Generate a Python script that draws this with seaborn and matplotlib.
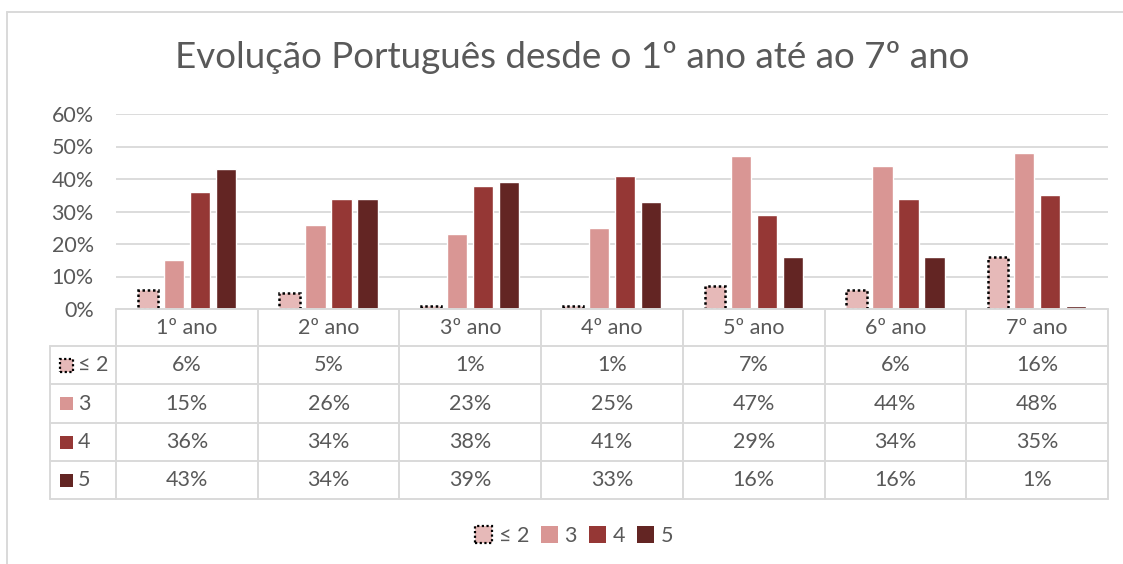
import numpy as np
import pandas as pd
import matplotlib
matplotlib.use('Agg')
import matplotlib.pyplot as plt
import seaborn as sns
from matplotlib.patches import Rectangle, Patch
from matplotlib.lines import Line2D
from matplotlib.ticker import PercentFormatter

# dados
anos = ['1º ano', '2º ano', '3º ano', '4º ano', '5º ano', '6º ano', '7º ano']
niveis = ['≤ 2', '3', '4', '5']
nivel_le2 = [6, 5, 1, 1, 7, 6, 16]
nivel_3 = [15, 26, 23, 25, 47, 44, 48]
nivel_4 = [36, 34, 38, 41, 29, 34, 35]
nivel_5 = [43, 34, 39, 33, 16, 16, 1]
y_ticks = [0, 10, 20, 30, 40, 50, 60]

cores = ['#E6B9B8', '#D99694', '#953735', '#632523']
cinza = '#D9D9D9'
texto = '#595959'

series = [nivel_le2, nivel_3, nivel_4, nivel_5]
df = pd.DataFrame({
    'ano': anos * 4,
    'nivel': [n for n in niveis for _ in anos],
    'valor': [v / 100 for s in series for v in s],
})

sns.set_theme(style='white')
plt.rcParams['font.family'] = ['Lato', 'DejaVu Sans']

W, H = 1123, 564
fig = plt.figure(figsize=(W / 100, H / 100), dpi=100)
fs = 15.5


def fx(px):
    return px / W


def fy(py):
    return 1 - py / H


# área do gráfico
x0, x1, y0, y1 = 116, 1108, 309, 114
ax = fig.add_axes([fx(x0), fy(y0), fx(x1 - x0), fy(y1) - fy(y0)])

sns.barplot(data=df, x='ano', y='valor', hue='nivel', hue_order=niveis,
            palette=cores, saturation=1, width=0.734, gap=0.22,
            legend=False, ax=ax)

# contorno pontilhado para a série ≤ 2
for p in ax.patches[:len(anos)]:
    p.set_edgecolor('black')
    p.set_linestyle((0, (1, 1.1)))
    p.set_linewidth(1.8)

ax.set_xlim(-0.5, len(anos) - 0.5)
ax.set_ylim(0, 0.6)
ax.set_yticks([t / 100 for t in y_ticks])
ax.yaxis.set_major_formatter(PercentFormatter(1.0, decimals=0))
ax.yaxis.grid(True, color=cinza, lw=1.3)
ax.set_axisbelow(True)
ax.set_xticks([])
ax.set_xlabel('')
ax.set_ylabel('')
ax.tick_params(axis='y', length=0, labelsize=fs, labelcolor=texto, pad=16)
for s in ax.spines.values():
    s.set_visible(False)

# título
fig.text(fx(572), fy(58), 'Evolução Português desde o 1º ano até ao 7º ano',
         ha='center', va='center', fontsize=26.5, color=texto)

# tabela de dados
lx = 50
rows = [309, 346, 384, 423, 461, 499]
colw = (x1 - x0) / len(anos)


def hline(y, xa, xb):
    fig.add_artist(Line2D([fx(xa), fx(xb)], [fy(y), fy(y)], color=cinza, lw=1.4))


def vline(x, ya, yb):
    fig.add_artist(Line2D([fx(x), fx(x)], [fy(ya), fy(yb)], color=cinza, lw=1.4))


hline(rows[0], x0, x1)
for y in rows[1:]:
    hline(y, lx, x1)
vline(lx, rows[1], rows[-1])
for i in range(len(anos) + 1):
    vline(x0 + i * colw, rows[0], rows[-1])

for i, a in enumerate(anos):
    cx = x0 + (i + 0.5) * colw
    fig.text(fx(cx), fy((rows[0] + rows[1]) / 2), a, ha='center', va='center',
             fontsize=fs, color=texto)
    for r, s in enumerate(series):
        cy = (rows[r + 1] + rows[r + 2]) / 2
        fig.text(fx(cx), fy(cy), f'{s[i]}%', ha='center', va='center',
                 fontsize=fs, color=texto)

for r, n in enumerate(niveis):
    cy = (rows[r + 1] + rows[r + 2]) / 2
    sq = 13
    rect = Rectangle((fx(60), fy(cy + sq / 2)), fx(sq), fy(cy - sq / 2) - fy(cy + sq / 2),
                     transform=fig.transFigure, facecolor=cores[r],
                     edgecolor='black' if r == 0 else cores[r],
                     linestyle=(0, (1, 1.1)) if r == 0 else '-', lw=1.6 if r == 0 else 0)
    fig.add_artist(rect)
    fig.text(fx(78), fy(cy), n, ha='left', va='center', fontsize=fs, color=texto)

# legenda
handles = []
for r, n in enumerate(niveis):
    if r == 0:
        handles.append(Patch(facecolor=cores[r], edgecolor='black',
                             linestyle=(0, (1, 1.1)), lw=1.6, label=n))
    else:
        handles.append(Patch(facecolor=cores[r], edgecolor=cores[r], lw=0, label=n))
fig.legend(handles=handles, loc='center', bbox_to_anchor=(fx(574), fy(536)),
           ncol=4, frameon=False, fontsize=fs, labelcolor=texto,
           handlelength=0.8, handleheight=0.8, handletextpad=0.3,
           columnspacing=0.55)

# borda do gráfico
vline(7, 12, H)
hline(12, 7, W)

fig.savefig('out.png', dpi=100, facecolor='white')
